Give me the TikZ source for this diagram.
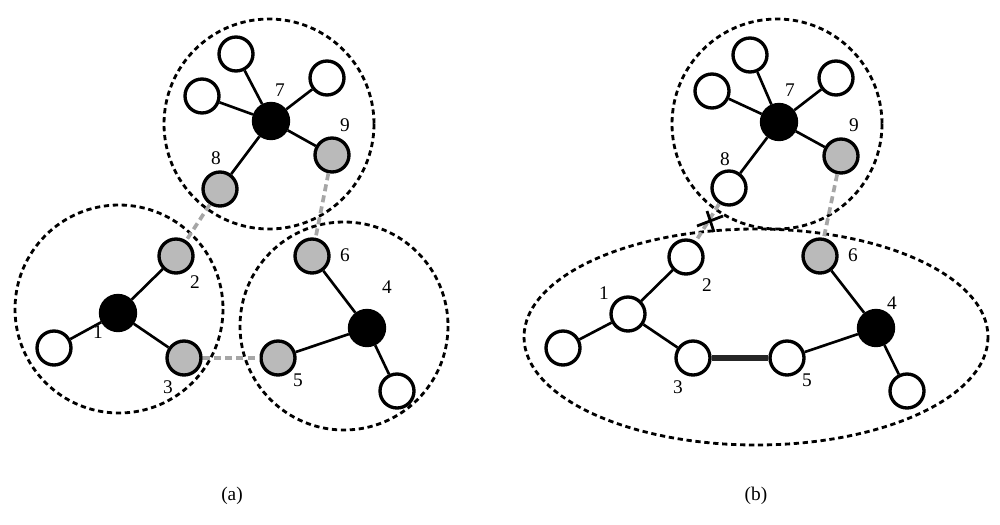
\documentclass[tikz,border=0pt]{standalone}
\usepackage{fontspec}
\setmainfont{Liberation Serif}
\begin{document}
\begin{tikzpicture}[x=0.02cm,y=-0.02cm,
  vert/.style={circle,draw=black,line width=1.9pt,minimum size=0.68cm,inner sep=0pt},
  wht/.style={vert,fill=white},
  gry/.style={vert,fill=black!27},
  blk/.style={vert,fill=black,minimum size=0.7cm},
  edgeline/.style={line width=1.5pt,black},
  link/.style={line width=2.1pt,black!35,dash pattern=on 4pt off 2.4pt},
  group/.style={line width=1.6pt,black,dash pattern=on 3pt off 2.1pt},
  lab/.style={font=\fontsize{11}{13}\selectfont,inner sep=0pt},
  captxt/.style={font=\fontsize{11}{13}\selectfont,inner sep=0pt},
  strong/.style={line width=3pt,black!85},
  crossline/.style={line width=1.6pt,black}
]
\useasboundingbox (0,0) rectangle (1000,524);

% ---------------- (a) ----------------
\draw[group] (269,124) circle (105);
\draw[group] (119,309) circle (104);
\draw[group] (344,326) circle (104);

\node[blk] (a1) at (118,313) {};
\node[wht] (a1l) at (54,348) {};
\node[gry] (a2) at (176,256) {};
\node[gry] (a3) at (184,358) {};
\node[blk] (a7) at (271,121) {};
\node[wht] (a7a) at (236,54) {};
\node[wht] (a7b) at (202,96) {};
\node[wht] (a7c) at (327,78) {};
\node[gry] (a8) at (220,189) {};
\node[gry] (a9) at (332,155) {};
\node[blk] (a4) at (367,328) {};
\node[gry] (a5) at (278,358) {};
\node[gry] (a6) at (312,256) {};
\node[wht] (a4l) at (397,391) {};

\draw[edgeline] (a1) -- (a1l);
\draw[edgeline] (a1) -- (a2);
\draw[edgeline] (a1) -- (a3);
\draw[edgeline] (a7) -- (a7a);
\draw[edgeline] (a7) -- (a7b);
\draw[edgeline] (a7) -- (a7c);
\draw[edgeline] (a7) -- (a8);
\draw[edgeline] (a7) -- (a9);
\draw[edgeline] (a4) -- (a5);
\draw[edgeline] (a4) -- (a6);
\draw[edgeline] (a4) -- (a4l);
\draw[link] (a8) -- (a2);
\draw[link] (a9) -- (a6);
\draw[link] (a3) -- (a5);

\node[lab] (la7) at (280,90) {7};
\node[lab] (la9) at (345,125) {9};
\node[lab] (la8) at (216,158) {8};
\node[lab] (la2) at (195,282) {2};
\node[lab] (la1) at (98,332) {1};
\node[lab] (la3) at (168,387) {3};
\node[lab] (la6) at (345,255) {6};
\node[lab] (la4) at (387,287) {4};
\node[lab] (la5) at (298,380) {5};

\node[captxt] (capa) at (232,496) {(a)};

% ---------------- (b) ----------------
\draw[group] (777,124) circle (105);
\draw[group] (756,337) ellipse (232 and 108);

\node[blk] (b7) at (779,122) {};
\node[wht] (b7a) at (750,55) {};
\node[wht] (b7b) at (712,91) {};
\node[wht] (b7c) at (836,78) {};
\node[gry] (b9) at (841,156) {};
\node[wht] (b8) at (729,188) {};
\node[wht] (b2) at (686,257) {};
\node[wht] (b1) at (628,314) {};
\node[wht] (b1l) at (563,348) {};
\node[wht] (b3) at (693,358) {};
\node[wht] (b5) at (787,358) {};
\node[blk] (b4) at (876,328) {};
\node[wht] (b4l) at (907,391) {};
\node[gry] (b6) at (820,256) {};

\draw[edgeline] (b7) -- (b7a);
\draw[edgeline] (b7) -- (b7b);
\draw[edgeline] (b7) -- (b7c);
\draw[edgeline] (b7) -- (b8);
\draw[edgeline] (b7) -- (b9);
\draw[edgeline] (b1) -- (b1l);
\draw[edgeline] (b1) -- (b2);
\draw[edgeline] (b1) -- (b3);
\draw[edgeline] (b4) -- (b5);
\draw[edgeline] (b4) -- (b6);
\draw[edgeline] (b4) -- (b4l);
\draw[strong] (b3) -- (b5);
\draw[link] (b8) -- (b2);
\draw[link] (b9) -- (b6);

\coordinate (x1) at (697,226);
\coordinate (x2) at (723,216);
\coordinate (x3) at (707,211);
\coordinate (x4) at (714,232);
\draw[crossline] (x1) -- (x2);
\draw[crossline] (x3) -- (x4);

\node[lab] (lb7) at (790,90) {7};
\node[lab] (lb9) at (854,125) {9};
\node[lab] (lb8) at (725,159) {8};
\node[lab] (lb2) at (707,285) {2};
\node[lab] (lb1) at (604,293) {1};
\node[lab] (lb3) at (678,387) {3};
\node[lab] (lb5) at (807,380) {5};
\node[lab] (lb6) at (853,255) {6};
\node[lab] (lb4) at (892,303) {4};

\node[captxt] (capb) at (756,496) {(b)};
\end{tikzpicture}
\end{document}
